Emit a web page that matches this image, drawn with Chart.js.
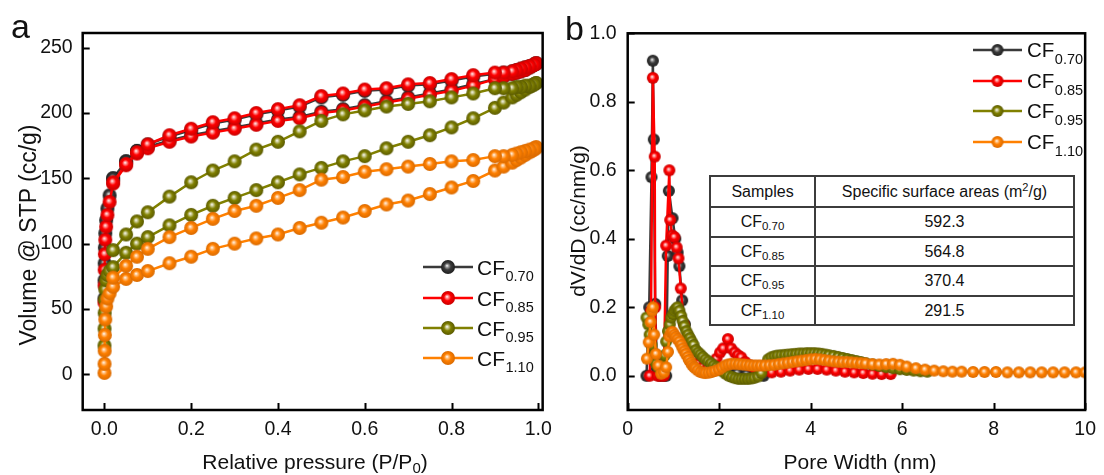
<!DOCTYPE html>
<html>
<head>
<meta charset="utf-8">
<script src="https://cdn.jsdelivr.net/npm/chart.js@4.4.1/dist/chart.umd.min.js"></script>
<style>
  html, body { margin: 0; padding: 0; background: #fff; }
  body { width: 1104px; height: 475px; position: relative; overflow: hidden;
         font-family: "Liberation Sans", Arial, sans-serif; color: #111; }
  canvas { position: absolute; top: 0; }
  #isoChart { left: 0; }
  #psdChart { left: 560px; }
  .lbl { position: absolute; white-space: nowrap; line-height: 1; }
  .panel { font-size: 34px; }
  .xt { font-size: 21px; transform: translateX(-50%); }
  .yt { font-size: 21px; transform: translate(-50%, -50%) rotate(-90deg); }
  .xt sub { font-size: 15px; vertical-align: -4px; line-height: 0; }
  #ssa { position: absolute; left: 709px; top: 175px; width: 366px; border-collapse: collapse;
         background: #fff; font-size: 16px; color: #111; }
  #ssa td { border: 2px solid #3c3c3c; padding: 0; text-align: center; }
  #ssa td:first-child { width: 103px; }
  #ssa sub { font-size: 11.5px; vertical-align: -3px; line-height: 0; }
  #ssa sup { font-size: 11px; vertical-align: 6px; line-height: 0; }
</style>
</head>
<body>
<canvas id="isoChart" width="560" height="475"></canvas>
<canvas id="psdChart" width="544" height="475"></canvas>

<div class="lbl panel" style="left:11px; top:9px;">a</div>
<div class="lbl panel" style="left:565px; top:11px;">b</div>
<div class="lbl xt" style="left:315px; top:451px;">Relative pressure (P/P<sub>0</sub>)</div>
<div class="lbl xt" style="left:860px; top:451px;">Pore Width (nm)</div>
<div class="lbl yt" style="left:28px; top:235px; font-size:23px;">Volume @ STP (cc/g)</div>
<div class="lbl yt" style="left:577px; top:221px;">dV/dD (cc/nm/g)</div>

<table id="ssa"></table>

<script>
// ---- samples ----
const sampleSubs = ['0.70', '0.85', '0.95', '1.10'];
const ssaValues  = [592.3, 564.8, 370.4, 291.5];

// ---- panel a: N2 isotherms, adsorption (rising P) then desorption (falling P) ----
const pAds = [0.0001, 0.0003, 0.0006, 0.001, 0.002, 0.004, 0.007, 0.012, 0.02, 0.05,
              0.075, 0.10, 0.15, 0.20, 0.25, 0.30, 0.35, 0.40, 0.45, 0.50,
              0.55, 0.60, 0.65, 0.70, 0.75, 0.80, 0.85, 0.90, 0.92, 0.94,
              0.95, 0.96, 0.97, 0.98, 0.985, 0.99, 0.995];
const pDes = [0.995, 0.99, 0.98, 0.97, 0.96, 0.95, 0.94, 0.92, 0.90, 0.85,
              0.80, 0.75, 0.70, 0.65, 0.60, 0.55, 0.50, 0.45, 0.40, 0.35,
              0.30, 0.25, 0.20, 0.15, 0.10, 0.075, 0.05, 0.02];

const adsCF070 = [58, 72, 85, 97, 108, 118, 127, 137, 150, 163, 171, 174, 179, 183, 186, 189, 192, 195, 197, 201,
                  203, 206, 209, 212, 215, 218, 222, 226, 228, 230, 231, 232, 233, 235, 236, 237, 238];
const desCF070 = [238, 237, 236, 235, 234, 233, 232, 231, 230, 228, 225, 222, 221, 218, 217, 214, 212, 205, 202, 199,
                  195, 192, 187, 182, 176, 171, 163, 150];
const adsCF085 = [55, 68, 80, 92, 103, 113, 122, 132, 146, 160, 169, 173, 178, 182, 185, 188, 191, 194, 196, 200,
                  202, 205, 208, 211, 214, 217, 221, 226, 228, 230, 231, 232, 233, 235, 236, 237, 238];
const desCF085 = [238, 237, 236, 235, 234, 233, 232, 231, 231, 229, 226, 223, 222, 219, 218, 215, 213, 206, 203, 200,
                  196, 193, 188, 183, 176, 170, 161, 147];
const adsCF095 = [22, 35, 47, 57, 65, 72, 76, 79, 82, 93, 100, 105, 114, 122, 129, 135, 141, 147, 153, 158,
                  163, 167, 173, 178, 183, 189, 196, 204, 208, 212, 214, 216, 218, 220, 221, 222, 223];
const desCF095 = [223, 222, 221, 221, 220, 220, 219, 219, 219, 215, 212, 209, 207, 205, 202, 199, 194, 186, 178, 172,
                  163, 156, 147, 136, 124, 117, 107, 95];
const adsCF110 = [1, 8, 18, 30, 42, 52, 58, 62, 67, 73, 76, 79, 85, 90, 96, 100, 104, 107, 112, 116,
                  120, 125, 130, 133, 138, 143, 148, 156, 159, 162, 164, 166, 168, 170, 171, 172, 173];
const desCF110 = [174, 173, 172, 171, 170, 169, 168, 167, 167, 164, 163, 161, 159, 157, 155, 151, 149, 141, 135, 129,
                  125, 119, 112, 105, 96, 90, 83, 74];

const pTicks   = [0, 0.2, 0.4, 0.6, 0.8, 1.0];
const volTicks = [0, 50, 100, 150, 200, 250];

// ---- panel b: pore size distribution ----
const wCF070 = [0.41, 0.47, 0.52, 0.55, 0.57, 0.60, 0.64, 0.70, 0.78, 0.84, 0.875, 0.90, 0.98, 1.04, 1.09, 1.13,
                1.19, 1.25, 1.31, 1.38, 1.45, 1.53, 1.62, 1.72, 1.85, 2.0, 2.2, 2.4, 2.6, 2.8, 2.97];
const dCF070 = [0.0, 0.20, 0.58, 0.92, 0.69, 0.21, 0.02, 0.0, 0.0, 0.0, 0.35, 0.54, 0.46, 0.40, 0.36, 0.32,
                0.22, 0.15, 0.11, 0.09, 0.075, 0.06, 0.05, 0.04, 0.03, 0.02, 0.012, 0.008, 0.004, 0.002, 0.0];
const wCF085 = [0.48, 0.51, 0.55, 0.59, 0.60, 0.62, 0.66, 0.72, 0.79, 0.84, 0.91, 0.93, 0.97, 1.02, 1.07, 1.11,
                1.16, 1.23, 1.30, 1.37, 1.45, 1.54, 1.64, 1.74, 1.84, 1.94, 2.02, 2.09, 2.19, 2.26, 2.34, 2.41,
                2.48, 2.57, 2.68, 2.80, 2.95, 3.15, 3.35, 3.55, 3.75, 3.95, 4.15, 4.35, 4.55, 4.75, 4.95, 5.15,
                5.35, 5.55, 5.75];
const dCF085 = [0.0, 0.19, 0.87, 0.64, 0.20, 0.04, 0.0, 0.0, 0.0, 0.38, 0.60, 0.455, 0.41, 0.405, 0.375, 0.343,
                0.255, 0.15, 0.10, 0.07, 0.05, 0.035, 0.025, 0.02, 0.03, 0.05, 0.068, 0.08, 0.107, 0.08, 0.068, 0.06,
                0.054, 0.04, 0.03, 0.02, 0.012, 0.01, 0.012, 0.015, 0.018, 0.02, 0.02, 0.018, 0.015, 0.012, 0.01, 0.008,
                0.006, 0.005, 0.005];
const wCF095 = [0.41, 0.45, 0.48, 0.52, 0.57, 0.62, 0.67, 0.72, 0.77, 0.81, 0.84, 0.88, 0.92, 0.95, 0.99, 1.02,
                1.06, 1.09, 1.13, 1.17, 1.20, 1.24, 1.28, 1.32, 1.36, 1.40, 1.44, 1.49, 1.54, 1.59, 1.64, 1.70,
                1.76, 1.82, 1.88, 1.94, 2.00, 2.07, 2.14, 2.21, 2.28, 2.35, 2.42, 2.49, 2.56, 2.63, 2.70, 2.77,
                2.85, 2.92, 3.00, 3.07, 3.14, 3.21, 3.28, 3.36, 3.44, 3.52, 3.60, 3.68, 3.76, 3.84, 3.92, 4.00,
                4.08, 4.16, 4.24, 4.32, 4.40, 4.50, 4.60, 4.70, 4.80, 4.90, 5.00, 5.10, 5.20, 5.35, 5.50, 5.65,
                5.80, 5.95, 6.10, 6.25, 6.40, 6.55];
const dCF095 = [0.17, 0.15, 0.12, 0.09, 0.06, 0.035, 0.025, 0.02, 0.03, 0.06, 0.10, 0.13, 0.15, 0.17, 0.18, 0.19,
                0.196, 0.20, 0.19, 0.175, 0.16, 0.145, 0.13, 0.12, 0.11, 0.10, 0.09, 0.075, 0.068, 0.062, 0.055, 0.048,
                0.042, 0.036, 0.03, 0.025, 0.02, 0.013, 0.006, 0.0, -0.004, -0.007, -0.009, -0.009, -0.009, -0.009, -0.008, -0.006,
                -0.002, 0.008, 0.03, 0.048, 0.054, 0.057, 0.059, 0.06, 0.061, 0.062, 0.063, 0.064, 0.065, 0.065, 0.066, 0.066,
                0.066, 0.065, 0.064, 0.062, 0.06, 0.058, 0.055, 0.052, 0.049, 0.046, 0.043, 0.04, 0.037, 0.033, 0.029, 0.025,
                0.022, 0.019, 0.017, 0.015, 0.013, 0.012];
const wCF110 = [0.42, 0.46, 0.50, 0.53, 0.55, 0.58, 0.62, 0.67, 0.73, 0.79, 0.84, 0.88, 0.91, 0.95, 0.98, 1.02,
                1.05, 1.09, 1.13, 1.17, 1.20, 1.24, 1.27, 1.31, 1.34, 1.38, 1.41, 1.45, 1.48, 1.53, 1.59, 1.65,
                1.70, 1.77, 1.84, 1.91, 1.99, 2.06, 2.13, 2.20, 2.27, 2.35, 2.43, 2.51, 2.59, 2.67, 2.75, 2.83,
                2.91, 3.00, 3.10, 3.20, 3.30, 3.40, 3.50, 3.60, 3.70, 3.80, 3.90, 4.00, 4.10, 4.20, 4.30, 4.40,
                4.50, 4.60, 4.70, 4.80, 4.90, 5.00, 5.10, 5.20, 5.35, 5.50, 5.65, 5.80, 5.95, 6.10, 6.30, 6.50,
                6.70, 6.90, 7.10, 7.30, 7.55, 7.80, 8.05, 8.30, 8.55, 8.80, 9.05, 9.30, 9.55, 9.80, 10.0];
const dCF110 = [0.05, 0.098, 0.157, 0.19, 0.20, 0.12, 0.064, 0.03, 0.006, 0.01, 0.025, 0.07, 0.115, 0.126, 0.128, 0.12,
                0.113, 0.107, 0.10, 0.09, 0.08, 0.072, 0.064, 0.055, 0.046, 0.038, 0.031, 0.026, 0.022, 0.016, 0.011, 0.009,
                0.008, 0.009, 0.011, 0.014, 0.018, 0.024, 0.03, 0.033, 0.035, 0.035, 0.034, 0.033, 0.032, 0.031, 0.030, 0.030,
                0.030, 0.030, 0.031, 0.032, 0.034, 0.036, 0.038, 0.040, 0.042, 0.044, 0.046, 0.048, 0.049, 0.048, 0.046, 0.044,
                0.042, 0.041, 0.040, 0.040, 0.039, 0.038, 0.037, 0.036, 0.034, 0.033, 0.034, 0.035, 0.032, 0.027, 0.022, 0.018,
                0.015, 0.013, 0.012, 0.012, 0.011, 0.011, 0.011, 0.010, 0.010, 0.010, 0.010, 0.010, 0.010, 0.010, 0.010];

const widthTicks = [0, 2, 4, 6, 8, 10];
const psdTicks   = [0.0, 0.2, 0.4, 0.6, 0.8, 1.0];

// ---- styling ----
const FONT = "'Liberation Sans', Arial, sans-serif";
const palette = [
  { line: '#3a3a3a', base: '#3c3c3c', light: '#9a9a9a', dark: '#1e1e1e' },
  { line: '#ff0000', base: '#ff0000', light: '#ff8a8a', dark: '#c80000' },
  { line: '#808000', base: '#808000', light: '#c8c890', dark: '#5a5a00' },
  { line: '#ff8000', base: '#ff8000', light: '#ffc080', dark: '#d96a00' },
];
const drawOrder = [3, 2, 1, 0]; // orange on top, black at bottom

function makeBall(col, r) {
  const size = Math.ceil(r * 2) + 2;
  const c = document.createElement('canvas');
  c.width = c.height = size;
  const g = c.getContext('2d');
  const m = size / 2;
  const grad = g.createRadialGradient(m - r * 0.15, m - r * 0.2, 0, m, m, r);
  grad.addColorStop(0, '#ffffff');
  grad.addColorStop(0.22, col.light);
  grad.addColorStop(0.5, col.base);
  grad.addColorStop(1, col.dark);
  g.fillStyle = grad;
  g.beginPath();
  g.arc(m, m, r, 0, Math.PI * 2);
  g.fill();
  return c;
}

const ballsA = palette.map(c => makeBall(c, 7));
const ballsB = palette.map(c => makeBall(c, 6));

const xy = (xs, ys) => xs.map((x, i) => ({ x, y: ys[i] }));

// inward ticks + closed frame, drawn over the data
const framePlugin = {
  id: 'frame',
  afterDatasetsDraw(chart) {
    const { ctx, chartArea: a, scales } = chart;
    ctx.save();
    ctx.strokeStyle = '#000';
    ctx.lineWidth = 2;
    ctx.beginPath();
    scales.x.ticks.forEach(t => {
      const px = Math.round(scales.x.getPixelForValue(t.value)) + 0.5;
      ctx.moveTo(px, a.bottom); ctx.lineTo(px, a.bottom - 7);
    });
    scales.y.ticks.forEach(t => {
      const py = Math.round(scales.y.getPixelForValue(t.value)) + 0.5;
      ctx.moveTo(a.left, py); ctx.lineTo(a.left + 7, py);
    });
    ctx.stroke();
    ctx.lineWidth = 2.5;
    ctx.strokeRect(a.left, a.top, a.right - a.left, a.bottom - a.top);
    ctx.restore();
  }
};

// legend with sphere markers and subscripted labels
const legendPlugin = {
  id: 'sphereLegend',
  afterDraw(chart, args, opts) {
    const { ctx } = chart;
    ctx.save();
    opts.rows.forEach((y, i) => {
      ctx.strokeStyle = palette[i].line;
      ctx.lineWidth = 2.5;
      ctx.beginPath();
      ctx.moveTo(opts.x1, y); ctx.lineTo(opts.x2, y);
      ctx.stroke();
      const img = opts.balls[i];
      ctx.drawImage(img, (opts.x1 + opts.x2) / 2 - img.width / 2, y - img.height / 2);
      ctx.fillStyle = '#111';
      ctx.textBaseline = 'alphabetic';
      ctx.font = opts.size + 'px ' + FONT;
      ctx.fillText('CF', opts.tx, y + opts.size * 0.36);
      const w = ctx.measureText('CF').width;
      ctx.font = opts.subSize + 'px ' + FONT;
      ctx.fillText(sampleSubs[i], opts.tx + w + 0.5, y + opts.size * 0.36 + 6.5);
    });
    ctx.restore();
  }
};

function axis(min, max, tickVals, fmt, isX, size, pad) {
  return {
    type: 'linear', min, max,
    grid: { display: false, drawTicks: false },
    border: { display: false },
    ticks: { color: '#111', font: { family: FONT, size: 19.5 }, padding: pad,
             maxRotation: 0, autoSkip: false, callback: v => fmt(v) },
    afterBuildTicks: s => { s.ticks = tickVals.map(v => ({ value: v })); },
    afterFit: s => { if (isX) s.height = size; else s.width = size; },
  };
}

// ---- panel a ----
const isoAds = [adsCF070, adsCF085, adsCF095, adsCF110];
const isoDes = [desCF070, desCF085, desCF095, desCF110];

new Chart(document.getElementById('isoChart'), {
  type: 'scatter',
  data: {
    datasets: isoAds.map((ads, i) => ({
      label: 'CF' + sampleSubs[i],
      data: xy(pAds, ads).concat(xy(pDes, isoDes[i])),
      showLine: true,
      borderColor: palette[i].line,
      borderWidth: 2.5,
      pointStyle: ballsA[i],
      pointRadius: 7,
      order: drawOrder[i],
    })),
  },
  options: {
    responsive: false,
    animation: false,
    layout: { padding: { top: 33, right: 14.3, left: 0, bottom: 0 } },
    plugins: {
      legend: { display: false },
      tooltip: { enabled: false },
      sphereLegend: { x1: 423, x2: 473, tx: 477, rows: [267, 298, 328, 358], size: 21, subSize: 14.5, balls: ballsA },
    },
    scales: {
      x: axis(-0.05, 1.01, pTicks, v => v.toFixed(1), true, 65, 8),
      y: axis(-27.4, 261.3, volTicks, v => String(v), false, 82.7, 10),
    },
  },
  plugins: [framePlugin, legendPlugin],
});

// ---- panel b ----
const psdW = [wCF070, wCF085, wCF095, wCF110];
const psdD = [dCF070, dCF085, dCF095, dCF110];

new Chart(document.getElementById('psdChart'), {
  type: 'scatter',
  data: {
    datasets: psdW.map((ws, i) => ({
      label: 'CF' + sampleSubs[i],
      data: xy(ws, psdD[i]),
      showLine: true,
      borderColor: palette[i].line,
      borderWidth: 2.5,
      pointStyle: ballsB[i],
      pointRadius: 6,
      order: drawOrder[i],
      clip: 0,
    })),
  },
  options: {
    responsive: false,
    animation: false,
    layout: { padding: { top: 33.3, right: 12, left: 0, bottom: 0 } },
    plugins: {
      legend: { display: false },
      tooltip: { enabled: false },
      sphereLegend: { x1: 413, x2: 462, tx: 467, rows: [50, 81, 111, 142], size: 20.5, subSize: 14.5, balls: ballsB },
    },
    scales: {
      x: axis(0, 10, widthTicks, v => String(v), true, 65, 8),
      y: axis(-0.1, 1.0, psdTicks, v => v.toFixed(1), false, 67.7, 11),
    },
  },
  plugins: [framePlugin, legendPlugin],
});

// ---- table of specific surface areas ----
const table = document.getElementById('ssa');
let html = '<tr style="height:31px"><td>Samples</td><td>Specific surface areas (m<sup>2</sup>/g)</td></tr>';
sampleSubs.forEach((s, i) => {
  html += '<tr style="height:' + (i % 2 ? 29 : 30) + 'px"><td>CF<sub>' + s + '</sub></td><td>' +
          ssaValues[i].toFixed(1) + '</td></tr>';
});
table.innerHTML = html;
</script>
</body>
</html>
